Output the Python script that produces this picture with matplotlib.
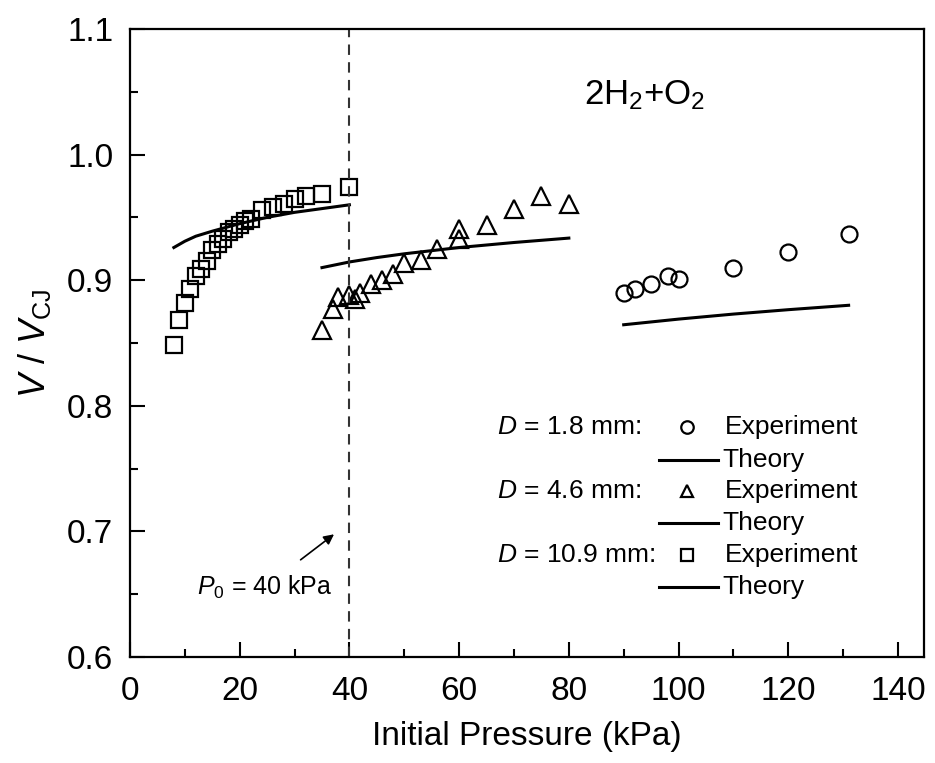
import matplotlib
matplotlib.use('Agg')
import matplotlib.pyplot as plt
from matplotlib.ticker import MultipleLocator

plt.rcParams['font.family'] = ['Liberation Sans', 'DejaVu Sans']
plt.rcParams['mathtext.fontset'] = 'custom'
plt.rcParams['mathtext.rm'] = 'Liberation Sans'
plt.rcParams['mathtext.it'] = 'Liberation Sans:italic'

# ======================================
# DATA
# ======================================

# D = 10.9 mm
p_sq = [8, 9, 10, 11, 12, 13, 14, 15, 16, 17, 18, 19, 20, 21, 22, 24, 26, 28, 30, 32, 35, 40]
v_sq = [0.848, 0.868, 0.882, 0.893, 0.903, 0.909, 0.915, 0.924, 0.929, 0.933, 0.938,
        0.941, 0.944, 0.947, 0.949, 0.956, 0.958, 0.961, 0.965, 0.967, 0.969, 0.974]
p_sq_th = [8, 9, 10, 12, 15, 20, 25, 30, 35, 40]
v_sq_th = [0.926, 0.9285, 0.931, 0.935, 0.939, 0.945, 0.950, 0.954, 0.957, 0.960]

# D = 4.6 mm
p_tri = [35, 37, 38, 40, 41, 42, 44, 46, 48, 50, 53, 56, 60, 60, 65, 70, 75, 80]
v_tri = [0.860, 0.877, 0.887, 0.888, 0.885, 0.890, 0.897, 0.900, 0.905, 0.914,
         0.916, 0.925, 0.933, 0.941, 0.944, 0.957, 0.967, 0.961]
p_tri_th = [35, 40, 45, 50, 60, 70, 80]
v_tri_th = [0.910, 0.9145, 0.918, 0.921, 0.926, 0.930, 0.9335]

# D = 1.8 mm
p_ci = [90, 92, 95, 98, 100, 110, 120, 131]
v_ci = [0.890, 0.893, 0.897, 0.903, 0.901, 0.910, 0.9225, 0.937]
p_ci_th = [90, 100, 110, 120, 131]
v_ci_th = [0.8645, 0.869, 0.873, 0.8765, 0.880]

p_limit = 40

legend_groups = ['$D$ = 1.8 mm:', '$D$ = 4.6 mm:', '$D$ = 10.9 mm:']
legend_markers = ['o', '^', 's']

# ======================================
# PLOT
# ======================================

fig = plt.figure(figsize=(9.35, 7.63), dpi=100)
ax = fig.add_axes([0.139, 0.139, 0.849, 0.823])

mk = dict(linestyle='none', markerfacecolor='none', markeredgecolor='black', markeredgewidth=1.6)
ax.plot(p_sq, v_sq, marker='s', markersize=12, **mk)
ax.plot(p_tri, v_tri, marker='^', markersize=13.5, **mk)
ax.plot(p_ci, v_ci, marker='o', markersize=11.5, **mk)

ax.plot(p_sq_th, v_sq_th, color='black', lw=2.2)
ax.plot(p_tri_th, v_tri_th, color='black', lw=2.2)
ax.plot(p_ci_th, v_ci_th, color='black', lw=2.2)

ax.axvline(p_limit, color='#333333', lw=1.5, linestyle=(0, (5, 3.5)))

ax.set_xlim(0, 144.7)
ax.set_ylim(0.6, 1.1)
ax.xaxis.set_major_locator(MultipleLocator(20))
ax.xaxis.set_minor_locator(MultipleLocator(10))
ax.yaxis.set_major_locator(MultipleLocator(0.1))
ax.yaxis.set_minor_locator(MultipleLocator(0.05))
ax.yaxis.set_major_formatter(plt.FormatStrFormatter('%.1f'))
ax.tick_params(which='both', direction='in', top=False, right=False, width=1.5)
ax.tick_params(which='major', length=11, labelsize=24)
ax.tick_params(which='minor', length=6)
ax.tick_params(axis='x', which='major', pad=14)
ax.tick_params(axis='y', which='major', pad=12)
for s in ax.spines.values():
    s.set_linewidth(1.6)

ax.set_xlabel('Initial Pressure (kPa)', fontsize=24, labelpad=10)
ax.set_ylabel(r'$V$ / $V_{\mathregular{CJ}}$', fontsize=26, labelpad=10)

ax.text(93.8, 1.047, r'2H$_2$+O$_2$', fontsize=25, ha='center', va='center')

ax.annotate('', xy=(37.6, 0.699), xytext=(30.7, 0.676),
            arrowprops=dict(arrowstyle='-|>', color='black', lw=1.2, mutation_scale=15))
ax.text(24.6, 0.655, r'$P_{\mathregular{0}}$ = 40 kPa', fontsize=18, ha='center', va='center')

# legend drawn by hand to mimic the original layout
rows_y = [0.366, 0.314, 0.264, 0.213, 0.162, 0.111]
for i, (grp, m) in enumerate(zip(legend_groups, legend_markers)):
    y_exp = rows_y[2 * i]
    y_th = rows_y[2 * i + 1]
    ax.text(0.462, y_exp, grp, transform=ax.transAxes, fontsize=19, ha='left', va='center')
    ax.plot([0.7015], [y_exp], transform=ax.transAxes, marker=m, markersize=9, **mk)
    ax.text(0.749, y_exp, 'Experiment', transform=ax.transAxes, fontsize=19, ha='left', va='center')
    ax.plot([0.666, 0.741], [y_th, y_th], transform=ax.transAxes, color='black', lw=2.2)
    ax.text(0.746, y_th, 'Theory', transform=ax.transAxes, fontsize=19, ha='left', va='center')

fig.savefig('out.png', dpi=100)
